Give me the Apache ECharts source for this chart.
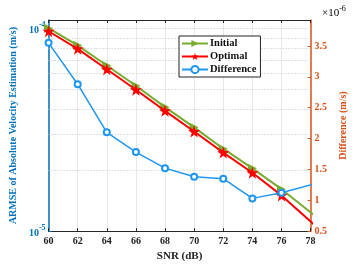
<!DOCTYPE html>
<html><head><meta charset="utf-8">
<script src="https://cdn.jsdelivr.net/npm/echarts@6/dist/echarts.min.js"></script>
<style>html,body{margin:0;padding:0;background:#fff}#c{width:356px;height:267px}</style>
</head><body><div id="c"></div>
<script>
// ---- data (the 80 dB points lie beyond the visible range and are clipped, as in the original) ----
const snr = [60, 62, 64, 66, 68, 70, 72, 74, 76, 80];
const initial = [1.003e-4, 8.25e-5, 6.56e-5, 5.21e-5, 4.09e-5, 3.25e-5, 2.55e-5, 2.04e-5, 1.61e-5, 9.5e-6];
const optimal = [9.68e-5, 7.93e-5, 6.29e-5, 4.98e-5, 3.92e-5, 3.10e-5, 2.44e-5, 1.94e-5, 1.50e-5, 8.3e-6];
const difference = [3.55, 2.88, 2.10, 1.78, 1.52, 1.38, 1.35, 1.03, 1.12, 1.38]; // in units of 1e-6 m/s
const seriesNames = ['Initial', 'Optimal', 'Difference'];
const xRange = [60, 78];
const leftRange = [1e-5, 1.1e-4];
const rightRange = [0.5, 3.92];
const rightTickLabels = ['0.5', '1', '1.5', '2', '2.5', '3', '3.5'];
const leftGridValues = [2e-5, 3e-5, 4e-5, 5e-5, 6e-5, 7e-5, 8e-5, 9e-5, 1e-4];

// ---- styles ----
const FONT = 'Liberation Serif';
const BLUE_AX = '#0072BD', ORANGE = '#D95319';
const GREEN = '#77AC30', RED = '#FF0000', LBLUE = '#1E96F0';
const STAR = 'path://M0,-10L2.35,-3.24L9.51,-3.09L3.8,1.24L5.88,8.09L0,4L-5.88,8.09L-3.8,1.24L-9.51,-3.09L-2.35,-3.24Z';

const pairs = arr => snr.map((x, i) => [x, arr[i]]);

const chart = echarts.init(document.getElementById('c'), null, {renderer: 'canvas'});
chart.setOption({
  animation: false,
  backgroundColor: '#fff',
  grid: {left: 46, right: 34, top: 20, bottom: 30, containLabel: false},
  legend: {
    data: seriesNames,
    orient: 'vertical', left: 179, top: 36,
    itemWidth: 26, itemHeight: 9, itemGap: 2,
    padding: [2, 4, 2, 2],
    borderColor: '#222', borderWidth: 1, backgroundColor: '#fff',
    textStyle: {fontFamily: FONT, fontWeight: 'bold', fontSize: 10.5, color: '#111', padding: [0, 0, 0, -3]}
  },
  xAxis: [{
    type: 'value', min: xRange[0], max: xRange[1], interval: 2,
    name: 'SNR (dB)', nameLocation: 'middle', nameGap: 16,
    nameTextStyle: {fontFamily: FONT, fontWeight: 'bold', fontSize: 11, color: '#222'},
    axisLine: {lineStyle: {color: '#262626', width: 1}},
    axisTick: {inside: true, length: 3, lineStyle: {color: '#262626'}},
    axisLabel: {fontFamily: FONT, fontWeight: 'bold', fontSize: 10, color: '#222', margin: 5},
    splitLine: {show: true, lineStyle: {color: '#e8e8e8', width: 1}}
  }, {
    type: 'value', position: 'top', min: xRange[0], max: xRange[1], interval: 2,
    axisLine: {show: true, lineStyle: {color: '#262626', width: 1}},
    axisTick: {inside: true, length: 3, lineStyle: {color: '#262626'}},
    axisLabel: {show: false}, splitLine: {show: false}
  }],
  yAxis: [{
    type: 'log', logBase: 10, min: leftRange[0], max: leftRange[1], position: 'left',
    name: 'ARMSE of Absolute Velocity Estimation (m/s)', nameLocation: 'middle', nameGap: 21, nameRotate: 90,
    nameTextStyle: {fontFamily: FONT, fontWeight: 'bold', fontSize: 10, color: BLUE_AX},
    axisLine: {show: true, lineStyle: {color: BLUE_AX, width: 1.5}},
    axisTick: {inside: true, length: 3, lineStyle: {color: BLUE_AX}},
    splitLine: {show: false},
    axisLabel: {
      margin: 3, showMaxLabel: false, hideOverlap: false,
      formatter: v => {
        const l = Math.log10(v), e = Math.round(l);
        if (Math.abs(l - e) > 1e-6) return '';
        return '{b|10}{s|' + e + '}';
      },
      rich: {
        b: {fontFamily: FONT, fontWeight: 'bold', fontSize: 10, color: BLUE_AX, lineHeight: 14, verticalAlign: 'bottom'},
        s: {fontFamily: FONT, fontWeight: 'bold', fontSize: 8, color: BLUE_AX, lineHeight: 14, verticalAlign: 'top'}
      }
    }
  }, {
    type: 'value', min: rightRange[0], max: rightRange[1], interval: 0.5, position: 'right',
    name: 'Difference (m/s)', nameLocation: 'middle', nameGap: 22, nameRotate: 90,
    nameTextStyle: {fontFamily: FONT, fontWeight: 'bold', fontSize: 10, color: ORANGE},
    axisLine: {show: true, lineStyle: {color: ORANGE, width: 1.5}},
    axisTick: {inside: true, length: 3, lineStyle: {color: ORANGE}},
    splitLine: {show: false},
    axisLabel: {
      margin: 4, showMaxLabel: false,
      fontFamily: FONT, fontWeight: 'bold', fontSize: 10, color: ORANGE,
      formatter: v => {
        const s = String(Math.round(v * 10) / 10);
        return rightTickLabels.indexOf(s) >= 0 ? s : '';
      }
    }
  }],
  graphic: [{
    type: 'text', left: 322, top: 5,
    style: {
      text: '{a|×10}{s|-6}',
      rich: {
        a: {fontFamily: FONT, fontSize: 11, color: ORANGE, lineHeight: 14, verticalAlign: 'bottom'},
        s: {fontFamily: FONT, fontSize: 8, color: ORANGE, lineHeight: 14, verticalAlign: 'top'}
      }
    }
  }],
  series: [{
    type: 'custom', name: 'grid', xAxisIndex: 0, yAxisIndex: 0, z: 1, silent: true,
    data: leftGridValues.map(v => [xRange[0], v]),
    encode: {x: 0, y: 1},
    renderItem: (params, api) => {
      const v = api.value(1);
      const p0 = api.coord([xRange[0], v]);
      const p1 = api.coord([xRange[1], v]);
      return {
        type: 'line', silent: true,
        shape: {x1: p0[0], y1: Math.round(p0[1]) + 0.5, x2: p1[0], y2: Math.round(p1[1]) + 0.5},
        style: {stroke: '#c4c4c4', lineWidth: 1, lineDash: [1, 2]}
      };
    }
  }, {
    name: seriesNames[0], type: 'line', xAxisIndex: 0, yAxisIndex: 0, z: 3,
    data: pairs(initial), clip: true,
    symbol: 'triangle', symbolRotate: -90, symbolSize: 9,
    lineStyle: {color: GREEN, width: 2}, itemStyle: {color: GREEN}
  }, {
    name: seriesNames[1], type: 'line', xAxisIndex: 0, yAxisIndex: 0, z: 4,
    data: pairs(optimal), clip: true,
    symbol: STAR, symbolSize: 12,
    lineStyle: {color: RED, width: 2}, itemStyle: {color: RED}
  }, {
    name: seriesNames[2], type: 'line', xAxisIndex: 0, yAxisIndex: 1, z: 5,
    data: pairs(difference), clip: true,
    symbol: 'emptyCircle', symbolSize: 6,
    lineStyle: {color: LBLUE, width: 1.5}, itemStyle: {color: LBLUE, borderWidth: 1.5}
  }]
});
</script></body></html>
